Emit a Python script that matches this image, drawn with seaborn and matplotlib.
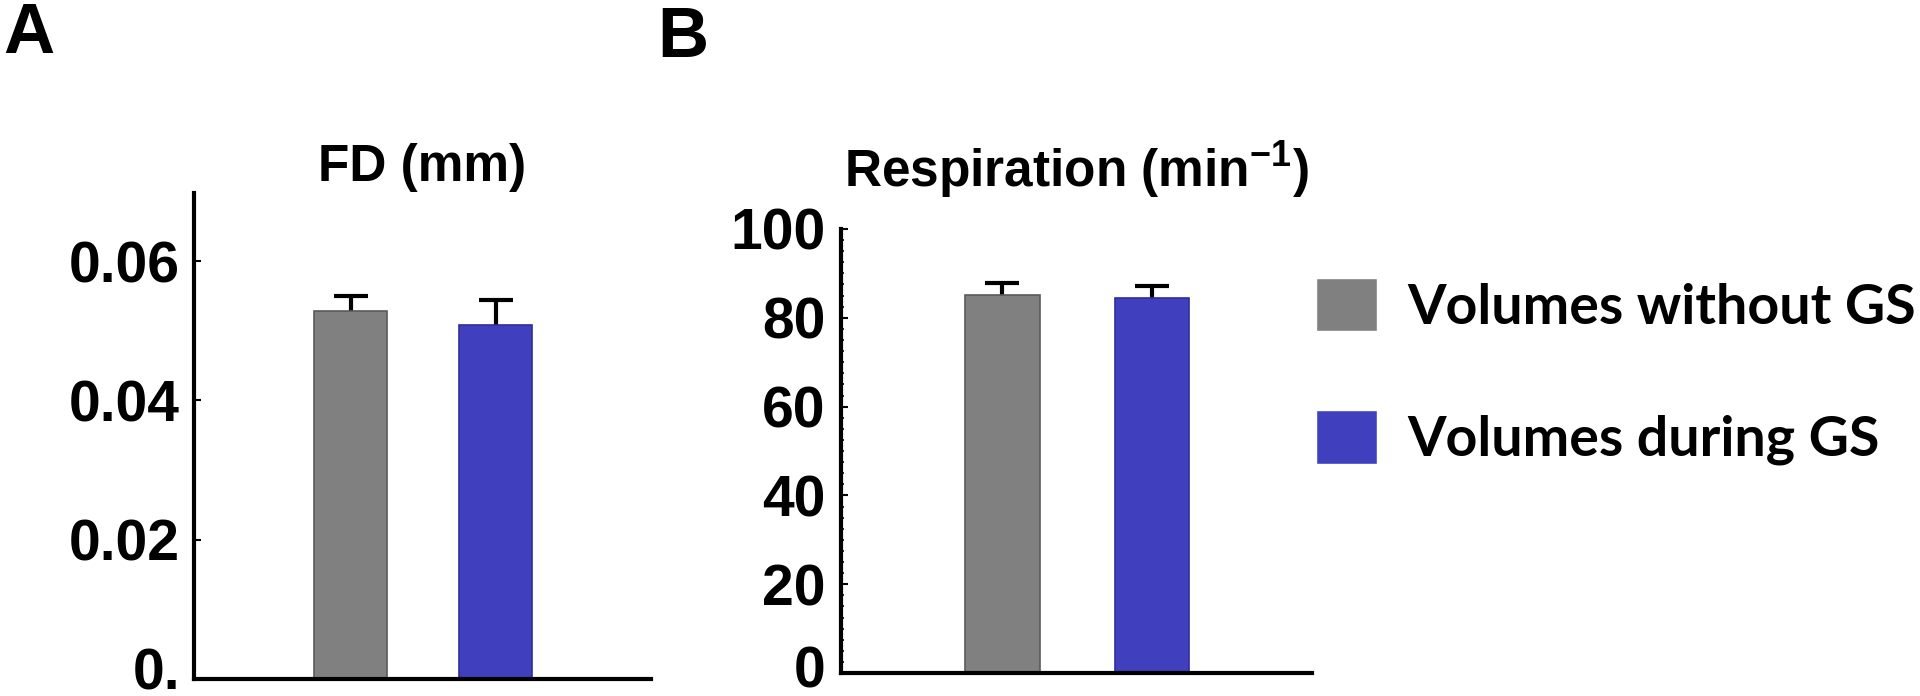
import pandas as pd
import matplotlib
matplotlib.use("Agg")
import matplotlib.pyplot as plt
import matplotlib.transforms as mtransforms
import seaborn as sns
from matplotlib.ticker import MultipleLocator

# values
conditions = ['Volumes without GS', 'Volumes during GS']
fd_mean = [0.0528, 0.0508]
fd_err = [0.0022, 0.0036]
resp_mean = [85.1, 84.5]
resp_err = [2.7, 2.7]

fd_ticks = [0, 0.02, 0.04, 0.06]
fd_ticklabels = ['0.', '0.02', '0.04', '0.06']
resp_ticks = [0, 20, 40, 60, 80, 100]

colors = ['#808080', '#4040BF']
edges = ['#5a5a5a', '#2e2e9a']

sns.set_style('white')
plt.rcParams['font.family'] = ['Liberation Sans', 'DejaVu Sans']
plt.rcParams['font.weight'] = 'bold'
plt.rcParams['text.color'] = 'black'
plt.rcParams['ytick.color'] = 'black'
plt.rcParams['xtick.color'] = 'black'
plt.rcParams['axes.labelcolor'] = 'black'
plt.rcParams['mathtext.fontset'] = 'custom'
plt.rcParams['mathtext.bf'] = 'Liberation Sans:bold'
plt.rcParams['mathtext.rm'] = 'Liberation Sans:bold'

df = pd.DataFrame({'condition': conditions, 'fd': fd_mean, 'resp': resp_mean})
palette = dict(zip(conditions, colors))

fig = plt.figure(figsize=(19.2, 6.96), dpi=100)
ax_a = fig.add_axes([194 / 1920, 1 - 679 / 696, 457 / 1920, 486 / 696])
ax_b = fig.add_axes([841 / 1920, 1 - 673 / 696, 471 / 1920, 444 / 696])


def draw_panel(ax, col, errs, legend):
    sns.barplot(data=df, x='condition', y=col, hue='condition', palette=palette,
                width=0.5, errorbar=None, saturation=1, legend=legend, ax=ax)
    for patch, ec in zip(ax.patches, edges):
        patch.set_edgecolor(ec)
        patch.set_linewidth(1.2)
    xs = list(range(len(conditions)))
    eb = ax.errorbar(xs, df[col], yerr=[[0] * len(errs), errs], fmt='none',
                     ecolor='black', elinewidth=3, capsize=12.5, capthick=3, zorder=0.5)
    # only the upper caps are shown in the reference
    for cap in eb.lines[1]:
        if list(cap.get_ydata()) == list(df[col]):
            cap.remove()
    ax.set_xlim(-1.08, 2.07)
    ax.set_xticks([])
    ax.set_xlabel('')
    ax.set_ylabel('')
    for s in ['top', 'right']:
        ax.spines[s].set_visible(False)
    for s in ['left', 'bottom']:
        ax.spines[s].set_linewidth(3)
        ax.spines[s].set_color('black')


def lift_zero_label(ax, px):
    lbl = ax.yaxis.get_major_ticks()[0].label1
    lbl.set_transform(lbl.get_transform() +
                      mtransforms.ScaledTranslation(0, px / 100, fig.dpi_scale_trans))


draw_panel(ax_a, 'fd', fd_err, False)
ax_a.set_ylim(0, 0.0698)
ax_a.set_yticks(fd_ticks, fd_ticklabels)
ax_a.tick_params(axis='y', direction='in', length=5, width=1.5, pad=10,
                 labelsize=41, left=True)
ax_a.set_title('FD (mm)', fontsize=37, fontweight='bold', pad=9)
lift_zero_label(ax_a, 10)

draw_panel(ax_b, 'resp', resp_err, True)
ax_b.set_ylim(0, 100)
ax_b.set_yticks(resp_ticks)
ax_b.yaxis.set_minor_locator(MultipleLocator(2.5))
ax_b.tick_params(axis='y', which='major', direction='in', length=5, width=1.5,
                 pad=11, labelsize=41, left=True)
ax_b.tick_params(axis='y', which='minor', direction='in', length=2.5, width=1.2,
                 left=True)
ax_b.set_title('Respiration (min$^{\\mathbf{-1}}$)', fontsize=37,
               fontweight='bold', pad=30)
lift_zero_label(ax_b, 6)

handles, labels = ax_b.get_legend_handles_labels()
ax_b.get_legend().remove()
fig.legend(handles, labels, loc='upper left', bbox_to_anchor=(1316 / 1920, 1 - 278 / 696),
           frameon=False, borderpad=0, borderaxespad=0,
           handlelength=1.1, handleheight=1.1, handletextpad=0.55,
           labelspacing=1.4, prop={'family': 'Lato', 'weight': 'bold', 'size': 40})

fig.text(3 / 1920, 1 - 53 / 696, 'A', fontsize=51, fontweight='bold',
         ha='left', va='baseline')
fig.text(657 / 1920, 1 - 57 / 696, 'B', fontsize=51, fontweight='bold',
         ha='left', va='baseline')

fig.savefig('out.png', dpi=100)
